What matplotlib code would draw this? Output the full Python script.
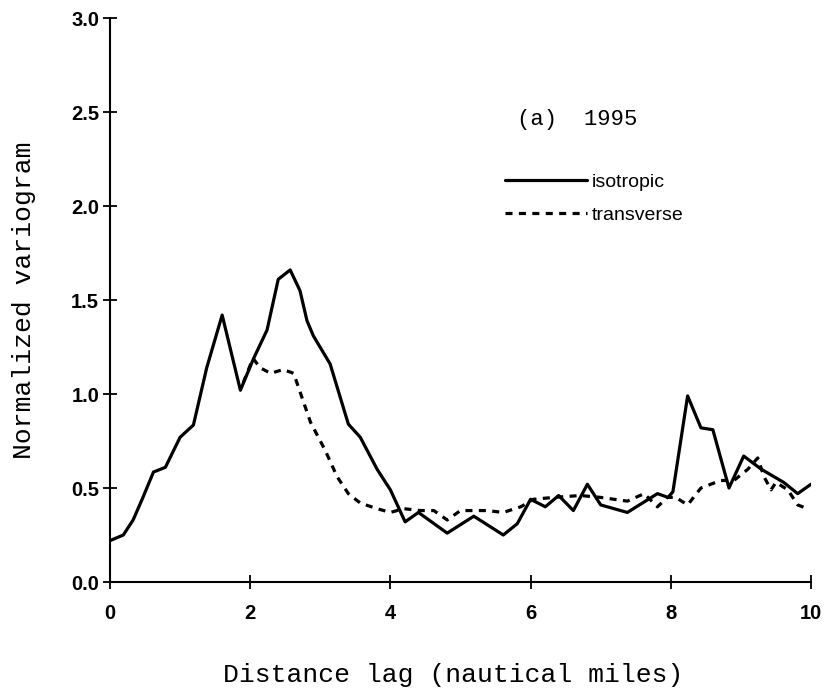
#!/usr/bin/env python3
# -*- coding: utf-8 -*-

"""
Normalized variogram, 1995 survey: isotropic vs transverse.
Saves out.png (825x697).
"""

import matplotlib
matplotlib.use("Agg")
import matplotlib.pyplot as plt


# isotropic variogram (lag in nautical miles, normalized value)
iso_lag = [0.00, 0.19, 0.33, 0.47, 0.62, 0.79, 1.00, 1.19, 1.38, 1.60,
           1.86, 2.05, 2.24, 2.40, 2.57, 2.71, 2.81, 2.90, 3.14, 3.40,
           3.57, 3.81, 4.00, 4.21, 4.40, 4.81, 5.19, 5.61, 5.81, 6.00,
           6.21, 6.40, 6.61, 6.81, 7.00, 7.38, 7.81, 7.96, 8.03, 8.24,
           8.43, 8.60, 8.83, 9.04, 9.29, 9.61, 9.81, 10.00]
iso_val = [0.22, 0.25, 0.33, 0.45, 0.585, 0.61, 0.77, 0.835, 1.14, 1.42,
           1.02, 1.19, 1.34, 1.61, 1.66, 1.55, 1.39, 1.31, 1.16, 0.84,
           0.77, 0.60, 0.49, 0.32, 0.37, 0.26, 0.35, 0.25, 0.31, 0.44,
           0.40, 0.46, 0.38, 0.52, 0.41, 0.37, 0.47, 0.45, 0.48, 0.99,
           0.82, 0.81, 0.50, 0.67, 0.60, 0.53, 0.47, 0.52]

# transverse variogram
trn_lag = [1.90, 2.04, 2.14, 2.29, 2.47, 2.62, 2.74, 2.86, 3.07, 3.24,
           3.40, 3.57, 3.81, 4.00, 4.19, 4.43, 4.62, 4.81, 5.00, 5.38,
           5.61, 5.86, 6.04, 6.33, 6.71, 7.00, 7.38, 7.62, 7.81, 7.95,
           8.07, 8.24, 8.43, 8.71, 8.90, 9.10, 9.24, 9.33, 9.43, 9.50,
           9.67, 9.81, 9.95]
trn_val = [1.06, 1.19, 1.14, 1.11, 1.13, 1.11, 0.98, 0.85, 0.70, 0.56,
           0.47, 0.42, 0.39, 0.37, 0.39, 0.38, 0.38, 0.33, 0.38, 0.38,
           0.37, 0.40, 0.44, 0.45, 0.46, 0.45, 0.43, 0.47, 0.40, 0.45,
           0.45, 0.41, 0.50, 0.54, 0.54, 0.60, 0.66, 0.56, 0.49, 0.53,
           0.49, 0.41, 0.39]

x_ticks = [0, 2, 4, 6, 8, 10]
y_ticks = [0.0, 0.5, 1.0, 1.5, 2.0, 2.5, 3.0]

panel_label = "(a)  1995"
x_label = "Distance lag (nautical miles)"
y_label = "Normalized variogram"

MONO = "Liberation Mono"
SANS = "Liberation Sans"


def main():
    fig = plt.figure(figsize=(8.25, 6.97), dpi=100)
    ax = fig.add_axes([110 / 825, 1 - 582 / 697, 701 / 825, 564 / 697])

    ax.plot(iso_lag, iso_val, color="black", lw=2.3,
            solid_joinstyle="round", solid_capstyle="round", label="isotropic")
    ax.plot(trn_lag, trn_val, color="black", lw=2.3, ls=(0, (2.2, 2.0)),
            dash_capstyle="butt", label="transverse")

    ax.set_xlim(0, 10)
    ax.set_ylim(0, 3.0)
    ax.set_xticks(x_ticks)
    ax.set_yticks(y_ticks)
    ax.set_xticklabels([str(t) for t in x_ticks])
    ax.set_yticklabels([f"{t:.1f}" for t in y_ticks])

    for side in ("top", "right"):
        ax.spines[side].set_visible(False)
    for side in ("left", "bottom"):
        ax.spines[side].set_linewidth(1.5)

    ax.tick_params(axis="both", direction="inout", length=9.5, width=1.3)
    ax.tick_params(axis="x", pad=11)
    ax.tick_params(axis="y", pad=3)
    for lab in ax.get_xticklabels() + ax.get_yticklabels():
        lab.set_fontfamily(SANS)
        lab.set_fontweight("bold")
        lab.set_fontsize(14.5)

    ax.set_xlabel(x_label, fontfamily=MONO, fontsize=19)
    ax.set_ylabel(y_label, fontfamily=MONO, fontsize=19)
    ax.xaxis.set_label_coords(0.49, -0.1436)
    ax.yaxis.set_label_coords(-0.106, 0.5)

    ax.text(5.81, 2.46, panel_label, fontfamily=MONO, fontsize=16,
            ha="left", va="center")

    leg = ax.legend(loc="center left", bbox_to_anchor=(505 / 825, 1 - 198.5 / 697),
                    bbox_transform=fig.transFigure, frameon=False, borderpad=0,
                    borderaxespad=0, handlelength=4.2, handletextpad=0.25,
                    labelspacing=0.82, prop={"family": SANS, "size": 14})
    for t in leg.get_texts():
        t.set_fontweight("normal")

    fig.savefig("out.png", dpi=100)
    plt.close(fig)


if __name__ == "__main__":
    main()
